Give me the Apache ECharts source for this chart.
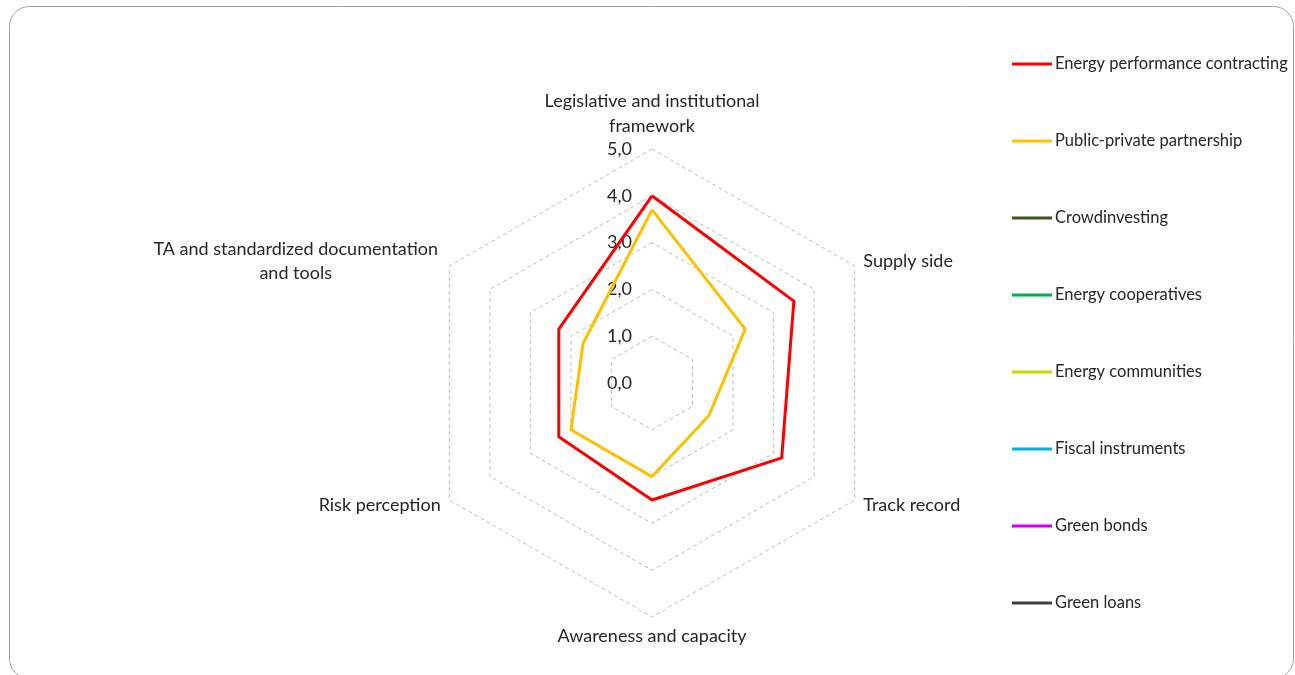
<!DOCTYPE html>
<html>
<head>
<meta charset="utf-8">
<script src="https://cdn.jsdelivr.net/npm/echarts@6/dist/echarts.min.js"></script>
<style>
html,body{margin:0;padding:0;background:#fff;}
#chart{width:1295px;height:675px;}
</style>
</head>
<body>
<div id="chart"></div>
<script>
const indicators = [
  'Legislative and institutional\nframework',
  'TA and standardized documentation\nand tools',
  'Risk perception',
  'Awareness and capacity',
  'Track record',
  'Supply side'
];
const seriesNames = [
  'Energy performance contracting',
  'Public-private partnership',
  'Crowdinvesting',
  'Energy cooperatives',
  'Energy communities',
  'Fiscal instruments',
  'Green bonds',
  'Green loans'
];
const seriesColors = ['#FF0000', '#FFC000', '#375623', '#00B050', '#C8DC00', '#00B0F0', '#CC00FF', '#404040'];
// values in indicator order
const epc = [4.0, 2.3, 2.3, 2.5, 3.2, 3.5];
const ppp = [3.7, 1.7, 2.0, 2.0, 1.4, 2.3];
const crowdinvesting = [];
const energyCooperatives = [];
const energyCommunities = [];
const fiscalInstruments = [];
const greenBonds = [];
const greenLoans = [];
const allValues = [epc, ppp, crowdinvesting, energyCooperatives, energyCommunities, fiscalInstruments, greenBonds, greenLoans];

const FONT = 'Lato';
const TEXT = '#262626';
const chart = echarts.init(document.getElementById('chart'));
const option = {
  backgroundColor: '#fff',
  animation: false,
  graphic: [{
    type: 'rect',
    shape: {x: 9.5, y: 6.5, width: 1284, height: 672, r: 20},
    style: {fill: 'none', stroke: '#a0a0a0', lineWidth: 1},
    z: -10
  }],
  legend: {
    orient: 'vertical',
    left: 1007,
    top: 50,
    itemWidth: 40,
    itemHeight: 3,
    itemGap: 59,
    icon: 'rect',
    textStyle: {fontFamily: FONT, fontSize: 16.5, color: TEXT, lineHeight: 18, padding: [0, 0, 0, -2]},
    data: seriesNames
  },
  radar: {
    center: [652, 383],
    radius: 234,
    startAngle: 90,
    shape: 'polygon',
    splitNumber: 5,
    nameGap: 10,
    axisName: {
      fontFamily: FONT, fontSize: 18, color: TEXT,
      rich: {
        c: {fontFamily: FONT, fontSize: 18, color: TEXT, width: 290, align: 'center', lineHeight: 24},
        t: {fontFamily: FONT, fontSize: 18, color: TEXT, align: 'center', lineHeight: 25}
      }
    },
    axisLine: {show: false},
    axisTick: {show: false},
    splitArea: {show: false},
    splitLine: {lineStyle: {color: '#c0c0c0', type: [4, 3], width: 1}},
    axisLabel: {show: false},
    indicator: indicators.map((n, i) => {
      const o = {name: n, min: 0, max: 5};
      if (i === 0) {
        o.axisLabel = {show: true, fontFamily: FONT, fontSize: 18, color: TEXT, margin: 20,
          formatter: v => v.toFixed(1).replace('.', ',')};
      }
      return o;
    })
  },
  series: [{
    type: 'radar',
    symbol: 'none',
    data: seriesNames.map((name, i) => ({
      name: name,
      value: allValues[i],
      lineStyle: {color: seriesColors[i], width: 3},
      itemStyle: {color: seriesColors[i]}
    }))
  }]
};
option.radar.axisName.formatter = function (name) {
  if (name.indexOf('TA and') === 0) {
    return name.split('\n').map(s => '{c|' + s + '}').join('\n');
  }
  if (name.indexOf('Legislative') === 0) {
    return name.split('\n').map(s => '{t|' + s + '}').join('\n');
  }
  return name;
};
chart.setOption(option);
</script>
</body>
</html>
